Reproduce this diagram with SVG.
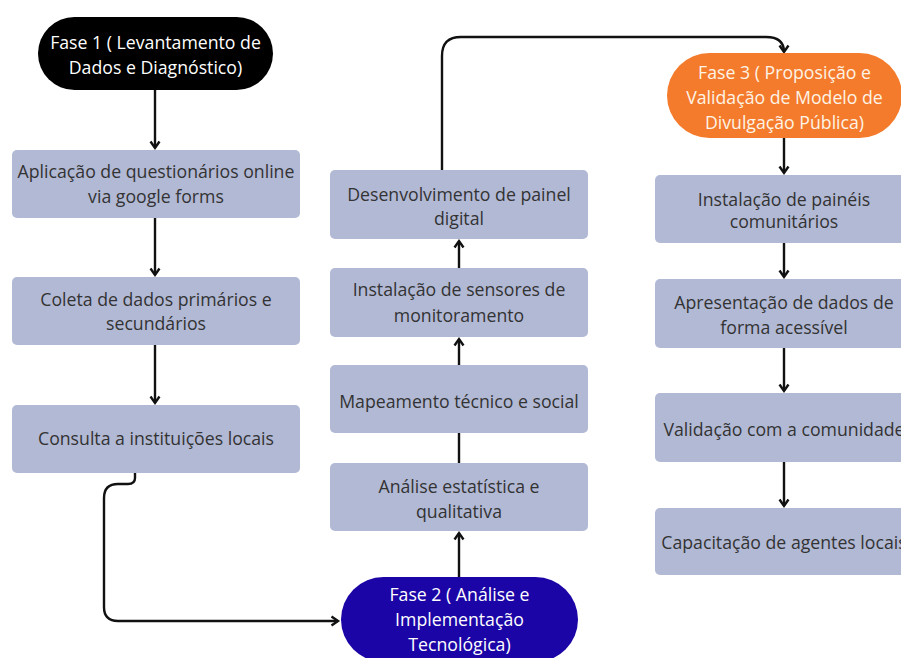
<svg xmlns="http://www.w3.org/2000/svg" width="901" height="658" viewBox="0 0 901 658">
<defs>
<style>
.box{fill:#b2b9d5;}
.t{font-family:"Open Sans","Noto Sans","DejaVu Sans",sans-serif;font-size:17.7px;fill:#333333;text-anchor:middle;}
.tw{font-family:"Open Sans","Noto Sans","DejaVu Sans",sans-serif;font-size:17.7px;fill:#ffffff;text-anchor:middle;}
.to{font-family:"Open Sans","Noto Sans","DejaVu Sans",sans-serif;font-size:17.7px;fill:#fdf3e6;text-anchor:middle;}
.c{fill:none;stroke:#111111;stroke-width:2.4;}
</style>
<marker id="ah" viewBox="0 0 12 12" refX="8" refY="6" markerWidth="12" markerHeight="12" markerUnits="userSpaceOnUse" orient="auto">
<path d="M1.5,1.5 L8,6 L1.5,10.5" fill="none" stroke="#111111" stroke-width="2.4"/>
</marker>
</defs>
<rect width="901" height="658" fill="#ffffff"/>

<g id="connectors">
<path class="c" d="M155,90 V148" marker-end="url(#ah)"/>
<path class="c" d="M155,218 V275" marker-end="url(#ah)"/>
<path class="c" d="M155,345 V403" marker-end="url(#ah)"/>
<path class="c" d="M135,473 V478 Q135,484 128,484 H118 Q104,484 104,498 V607 Q104,621 118,621 H338" marker-end="url(#ah)"/>
<path class="c" d="M459,577 V533" marker-end="url(#ah)"/>
<path class="c" d="M459,463 V433"/>
<path class="c" d="M459,365 V339" marker-end="url(#ah)"/>
<path class="c" d="M459,268 V241" marker-end="url(#ah)"/>
<path class="c" d="M442,170 V56 Q442,37 461,37 H766 Q784,37 784,52" marker-end="url(#ah)"/>
<path class="c" d="M784,138 V173" marker-end="url(#ah)"/>
<path class="c" d="M784,243 V277" marker-end="url(#ah)"/>
<path class="c" d="M784,348 V391" marker-end="url(#ah)"/>
<path class="c" d="M784,462 V506" marker-end="url(#ah)"/>
</g>

<g id="fase1">
<rect x="38" y="17" width="235" height="73" rx="36.5" fill="#000000"/>
<text class="tw" x="155.5" y="49">Fase 1 ( Levantamento de</text>
<text class="tw" x="155.5" y="74">Dados e Diagnóstico)</text>
</g>
<g id="aplicacao">
<rect class="box" x="12" y="150" width="288" height="68" rx="5"/>
<text class="t" x="156" y="178">Aplicação de questionários online</text>
<text class="t" x="156" y="203">via google forms</text>
</g>
<g id="coleta">
<rect class="box" x="12" y="277" width="288" height="68" rx="5"/>
<text class="t" x="156" y="306">Coleta de dados primários e</text>
<text class="t" x="156" y="330">secundários</text>
</g>
<g id="consulta">
<rect class="box" x="12" y="405" width="288" height="68" rx="5"/>
<text class="t" x="156" y="445">Consulta a instituições locais</text>
</g>

<g id="fase2">
<rect x="341" y="577" width="237" height="85" rx="42.5" fill="#1c05a6"/>
<text class="tw" x="459.5" y="601">Fase 2 ( Análise e</text>
<text class="tw" x="459.5" y="626">Implementação</text>
<text class="tw" x="459.5" y="651">Tecnológica)</text>
</g>
<g id="analise">
<rect class="box" x="330" y="463" width="258" height="68" rx="5"/>
<text class="t" x="459" y="493">Análise estatística e</text>
<text class="t" x="459" y="518">qualitativa</text>
</g>
<g id="mapeamento">
<rect class="box" x="330" y="365" width="258" height="68" rx="5"/>
<text class="t" x="459" y="408">Mapeamento técnico e social</text>
</g>
<g id="sensores">
<rect class="box" x="330" y="268" width="258" height="69" rx="5"/>
<text class="t" x="459" y="296">Instalação de sensores de</text>
<text class="t" x="459" y="322">monitoramento</text>
</g>
<g id="painel">
<rect class="box" x="330" y="170" width="258" height="69" rx="5"/>
<text class="t" x="459" y="201">Desenvolvimento de painel</text>
<text class="t" x="459" y="225">digital</text>
</g>

<g id="fase3">
<rect x="667" y="53" width="235" height="85" rx="42.5" fill="#f47b2c"/>
<text class="to" x="784.5" y="79">Fase 3 ( Proposição e</text>
<text class="to" x="784.5" y="104">Validação de Modelo de</text>
<text class="to" x="784.5" y="129">Divulgação Pública)</text>
</g>
<g id="paineis">
<rect class="box" x="655" y="175" width="258" height="68" rx="5"/>
<text class="t" x="784" y="206">Instalação de painéis</text>
<text class="t" x="784" y="228">comunitários</text>
</g>
<g id="apresentacao">
<rect class="box" x="655" y="279" width="258" height="69" rx="5"/>
<text class="t" x="784" y="309">Apresentação de dados de</text>
<text class="t" x="784" y="334">forma acessível</text>
</g>
<g id="validacao">
<rect class="box" x="655" y="393" width="258" height="69" rx="5"/>
<text class="t" x="784" y="436">Validação com a comunidade</text>
</g>
<g id="capacitacao">
<rect class="box" x="655" y="508" width="258" height="67" rx="5"/>
<text class="t" x="784" y="549">Capacitação de agentes locais</text>
</g>
</svg>
